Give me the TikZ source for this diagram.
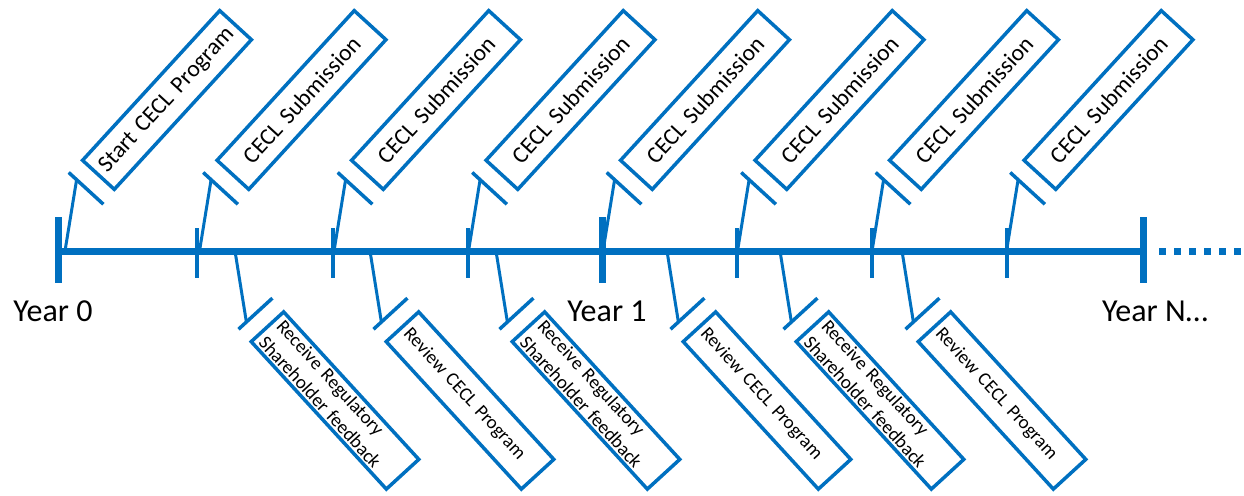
\documentclass[tikz,border=0pt]{standalone}
\usepackage{fontspec}
\setmainfont{Carlito}
\usetikzlibrary{calc}
\definecolor{tlblue}{HTML}{0070C0}
\begin{document}
\begin{tikzpicture}[x=1pt,y=-1pt,
  topbox/.style={draw=tlblue, line width=3.5pt, rotate=47.5, minimum width=203pt, minimum height=43pt,
    text width=190pt, inner xsep=6.5pt, inner ysep=0pt, align=center, font=\fontsize{23.5}{28}\selectfont},
  botbox/.style={draw=tlblue, line width=3.5pt, rotate=-47.5, minimum width=200pt, minimum height=44pt,
    text width=188pt, inner xsep=6pt, inner ysep=0pt, align=left, font=\fontsize{19}{24}\selectfont},
  axisline/.style={draw=tlblue, line width=7pt},
  majortick/.style={draw=tlblue, line width=7pt},
  minortick/.style={draw=tlblue, line width=4pt},
  bar/.style={draw=tlblue, line width=3.5pt},
  leader/.style={draw=tlblue, line width=3pt},
  yearlbl/.style={font=\fontsize{32}{38}\selectfont, inner sep=0pt}]
\useasboundingbox (0,0) rectangle (1244,495);

% axis
\coordinate (ax0) at (58,251);
\coordinate (axN) at (1143,251);
\coordinate (dotS) at (1159,251);
\coordinate (dotE) at (1244,251);
\draw[axisline] (ax0) -- (axN);
\draw[tlblue, line width=7pt, dash pattern=on 7pt off 8pt] (dotS) -- (dotE);

% ticks
\foreach \x in {58,602,1143} {
  \draw[majortick] (\x,217) -- (\x,283);
}
\foreach \x in {197,333,468,737,872,1007} {
  \draw[minortick] (\x,228) -- (\x,278);
}

% year labels
\node[yearlbl] (y0) at (53,311) {Year 0};
\node[yearlbl] (y1) at (607,311) {Year 1};
\node[yearlbl] (yN) at (1155,311) {Year N…};

% top callouts
\foreach \i/\txt in {0/Start CECL Program,1/CECL Submission,2/CECL Submission,3/CECL Submission,
                     4/CECL Submission,5/CECL Submission,6/CECL Submission,7/CECL Submission} {
  \node[topbox] (tb\i) at ({167+134.5*\i},100) {\txt};
  \coordinate (tc\i) at ($(tb\i.west)!-16.6pt!(tb\i.east)$);
  \coordinate (tA\i) at ($(tc\i)!23.5pt!90:(tb\i.center)$);
  \coordinate (tB\i) at ($(tc\i)!23.5pt!-90:(tb\i.center)$);
  \coordinate (tL\i) at ($(tc\i)!12.8pt!90:(tb\i.center)$);
  \coordinate (tP\i) at ({65+134.5*\i},251);
  \draw[bar] (tA\i) -- (tB\i);
  \draw[leader] (tP\i) -- (tL\i);
}

% bottom callouts
\foreach \lx/\txt [count=\j] in {235/{Receive Regulatory\\Shareholder feedback},370/{Review CECL Program},
                                 496/{Receive Regulatory\\Shareholder feedback},667/{Review CECL Program},
                                 780/{Receive Regulatory\\Shareholder feedback},902/{Review CECL Program}} {
  \node[botbox] (bb\j) at ({\lx+100},400.5) {\txt};
  \coordinate (bc\j) at ($(bb\j.west)!-16pt!(bb\j.east)$);
  \coordinate (bA\j) at ($(bc\j)!23pt!90:(bb\j.center)$);
  \coordinate (bB\j) at ($(bc\j)!23pt!-90:(bb\j.center)$);
  \coordinate (bL\j) at ($(bc\j)!12.3pt!-90:(bb\j.center)$);
  \coordinate (bP\j) at (\lx,251);
  \draw[bar] (bA\j) -- (bB\j);
  \draw[leader] (bP\j) -- (bL\j);
}
\end{tikzpicture}
\end{document}
